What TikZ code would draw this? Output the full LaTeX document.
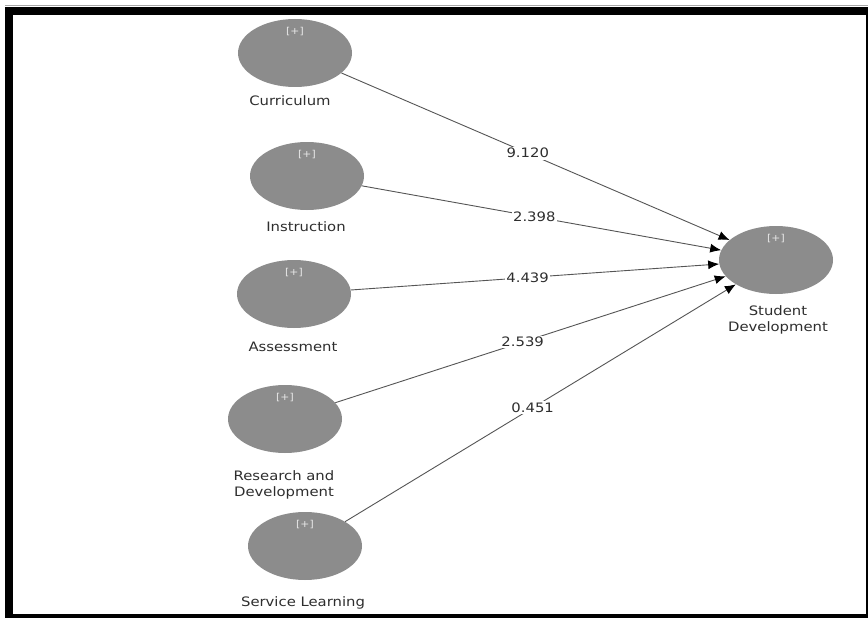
\documentclass[tikz,border=0pt]{standalone}
\usepackage{fontspec}
\usetikzlibrary{shapes.geometric,arrows.meta}
\newfontfamily\lblfont[FakeStretch=1.14]{DejaVu Sans}
\definecolor{lvfill}{HTML}{8C8C8C}
\definecolor{edgegray}{HTML}{555555}
\definecolor{txtgray}{HTML}{2E2E2E}
\definecolor{plusgray}{HTML}{E8E8E8}
\begin{document}
\begin{tikzpicture}[x=1pt,y=-1pt,
  lv/.style={ellipse,fill=lvfill,draw=none,minimum width=114pt,minimum height=68pt,inner sep=0pt},
  plus/.style={text=plusgray,font=\lblfont\fontsize{9.5}{10}\selectfont,inner sep=0pt},
  lvname/.style={text=txtgray,font=\lblfont\fontsize{13}{16}\selectfont,align=center,inner sep=0pt},
  num/.style={fill=white,text=txtgray,font=\lblfont\fontsize{13}{14}\selectfont,inner sep=1.5pt,pos=0.48},
  edge/.style={draw=edgegray,line width=0.9pt,-{Latex[length=11pt,width=9pt,color=black]}}
]
\useasboundingbox (0,0) rectangle (868,618);
% frame
\fill[white] (0,0) rectangle (868,618);
\draw[gray!70,line width=1pt] (5,6) -- (868,6);
\fill[black] (5,7) rectangle (868,618);
\fill[white] (13,15) rectangle (866,614);
% latent variables
\node[lv] (cur) at (295,53) {};
\node[lv] (ins) at (307,176) {};
\node[lv] (ass) at (294,294) {};
\node[lv] (rnd) at (285,419) {};
\node[lv] (ser) at (305,546) {};
\node[lv] (sd)  at (776,260) {};
% [+] markers
\node[plus] (curp) at (295,32) {[+]};
\node[plus] (insp) at (307,155) {[+]};
\node[plus] (assp) at (294,273) {[+]};
\node[plus] (rndp) at (285,398) {[+]};
\node[plus] (serp) at (305,525) {[+]};
\node[plus] (sdp)  at (776,239) {[+]};
% names
\node[lvname] (curl) at (290,101) {Curriculum};
\node[lvname] (insl) at (306,227) {Instruction};
\node[lvname] (assl) at (293,347) {Assessment};
\node[lvname] (rndl) at (284,485) {Research and\\Development};
\node[lvname] (serl) at (303,603) {Service Learning};
\node[lvname] (sdl)  at (778,320) {Student\\Development};
% paths
\draw[edge] (cur) -- node[num] {9.120} (sd);
\draw[edge] (ins) -- node[num] {2.398} (sd);
\draw[edge] (ass) -- node[num] {4.439} (sd);
\draw[edge] (rnd) -- node[num] {2.539} (sd);
\draw[edge] (ser) -- node[num] {0.451} (sd);
\end{tikzpicture}
\end{document}
